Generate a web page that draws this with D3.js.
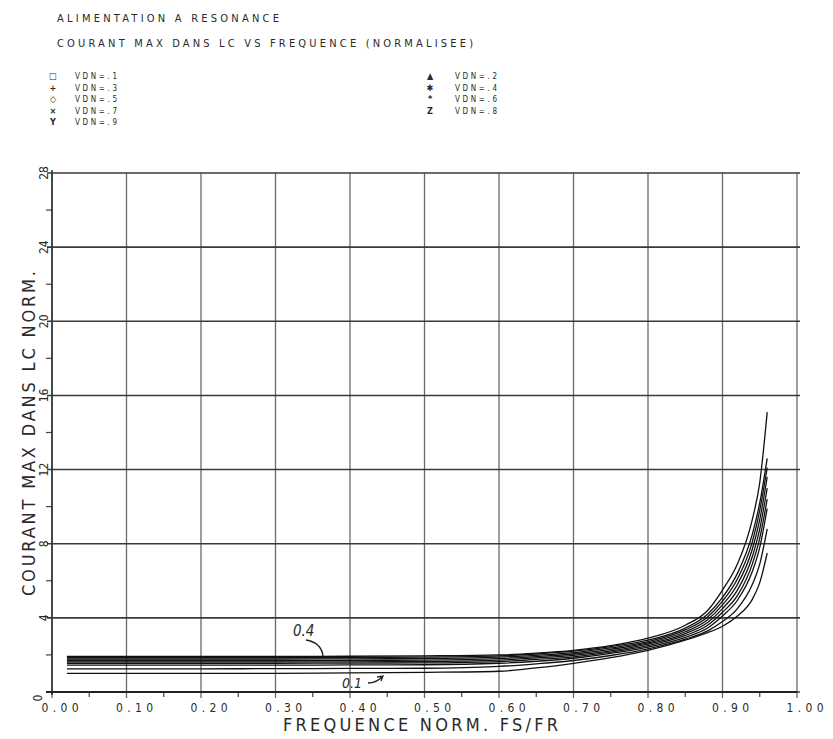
<!DOCTYPE html>
<meta charset="utf-8">
<style>
body { margin: 0; background: #fff; }
text { font-family: "DejaVu Sans", sans-serif; font-stretch: condensed; fill: #2a2a2a; }
</style>
<svg width="833" height="739"></svg>
<script src="https://d3js.org/d3.v7.min.js"></script>
<script>

// normalised frequency FS/FR where the curves were read
var freq = [0.02, 0.10, 0.20, 0.30, 0.40, 0.50, 0.60, 0.65, 0.70, 0.75, 0.80, 0.85, 0.88, 0.90, 0.92, 0.94, 0.95, 0.96];

// max current in LC (normalised), one list per VDN value
var vdn1 = [1.00, 1.00, 1.00, 1.01, 1.03, 1.06, 1.12, 1.30, 1.55, 1.85, 2.25, 2.80, 3.20, 3.55, 4.10, 5.00, 5.90, 7.5];
var vdn2 = [1.25, 1.25, 1.25, 1.26, 1.27, 1.28, 1.38, 1.52, 1.70, 1.97, 2.33, 2.85, 3.30, 3.80, 4.50, 5.80, 6.90, 8.8];
var vdn3 = [1.45, 1.45, 1.45, 1.45, 1.46, 1.47, 1.55, 1.66, 1.82, 2.08, 2.42, 2.95, 3.45, 4.10, 4.95, 6.50, 7.80, 9.9];
var vdn4 = [1.92, 1.92, 1.92, 1.92, 1.93, 1.95, 2.00, 2.10, 2.25, 2.50, 2.90, 3.60, 4.40, 5.50, 6.90, 9.30, 11.3, 15.1];
var vdn5 = [1.85, 1.85, 1.85, 1.85, 1.86, 1.88, 1.95, 2.05, 2.20, 2.45, 2.80, 3.45, 4.20, 5.10, 6.40, 8.50, 10.2, 12.6];
var vdn6 = [1.78, 1.78, 1.78, 1.78, 1.79, 1.80, 1.88, 1.98, 2.12, 2.38, 2.72, 3.35, 4.05, 4.90, 6.10, 8.10, 9.80, 12.1];
var vdn7 = [1.70, 1.70, 1.70, 1.70, 1.71, 1.72, 1.80, 1.91, 2.05, 2.30, 2.65, 3.25, 3.90, 4.70, 5.80, 7.70, 9.30, 11.6];
var vdn8 = [1.62, 1.62, 1.62, 1.62, 1.63, 1.64, 1.72, 1.84, 1.98, 2.22, 2.58, 3.15, 3.75, 4.50, 5.50, 7.30, 8.80, 11.0];
var vdn9 = [1.55, 1.55, 1.55, 1.55, 1.56, 1.57, 1.64, 1.76, 1.90, 2.15, 2.50, 3.05, 3.60, 4.30, 5.20, 6.90, 8.30, 10.4];
var series = [vdn1, vdn2, vdn3, vdn4, vdn5, vdn6, vdn7, vdn8, vdn9];

var legendSymbols = ["\u25A1", "+", "\u25C7", "\u2A2F", "Y", "\u25B2", "\u2731", "*", "Z"];
var legendLabels = ["VDN=.1", "VDN=.3", "VDN=.5", "VDN=.7", "VDN=.9", "VDN=.2", "VDN=.4", "VDN=.6", "VDN=.8"];

var xTicks = [0, 0.1, 0.2, 0.3, 0.4, 0.5, 0.6, 0.7, 0.8, 0.9, 1.0];
var yTicks = [0, 4, 8, 12, 16, 20, 24, 28];

var svg = d3.select("svg");

var x = d3.scaleLinear().domain([0, 1]).range([52, 797]);
var y = d3.scaleLinear().domain([0, 28]).range([692, 173]);

// ---- titles ----
svg.append("text").attr("x", 57).attr("y", 22)
   .attr("font-size", 11).attr("textLength", 222).attr("lengthAdjust", "spacing")
   .text("ALIMENTATION A RESONANCE");
svg.append("text").attr("x", 57).attr("y", 47)
   .attr("font-size", 11).attr("textLength", 416).attr("lengthAdjust", "spacing")
   .text("COURANT MAX DANS LC VS FREQUENCE (NORMALISEE)");

// ---- legend, two columns ----
legendLabels.forEach(function(lab, i) {
  var col = i < 5 ? 0 : 1;
  var row = col == 0 ? i : i - 5;
  var ly = 79 + row * 11.5;
  svg.append("text").attr("x", col ? 430 : 53).attr("y", ly)
     .attr("font-size", 9).attr("font-weight", "bold").attr("text-anchor", "middle").text(legendSymbols[i]);
  svg.append("text").attr("x", col ? 455 : 75).attr("y", ly)
     .attr("font-size", 8).attr("textLength", 42).attr("lengthAdjust", "spacing")
     .text(lab);
});

// ---- grid ----
var grid = svg.append("g");
grid.selectAll("line.v").data(xTicks).enter().append("line")
    .attr("x1", d => x(d)).attr("x2", d => x(d))
    .attr("y1", y(28)).attr("y2", y(0) + 6)
    .attr("stroke", "#6a6a6a").attr("stroke-width", 1.3);
grid.selectAll("line.h").data(yTicks).enter().append("line")
    .attr("x1", x(0) - 5).attr("x2", x(1) + 3)
    .attr("y1", d => y(d)).attr("y2", d => y(d))
    .attr("stroke", "#3a3a3a").attr("stroke-width", 1.6);

// minor ticks
var xMinor = d3.range(0.05, 1, 0.1);
grid.selectAll("line.xm").data(xMinor).enter().append("line")
    .attr("x1", d => x(d)).attr("x2", d => x(d))
    .attr("y1", y(0)).attr("y2", y(0) + 5)
    .attr("stroke", "#444").attr("stroke-width", 1.2);
var yMinor = d3.range(2, 28, 4);
grid.selectAll("line.ym").data(yMinor).enter().append("line")
    .attr("x1", x(0) - 6).attr("x2", x(0))
    .attr("y1", d => y(d)).attr("y2", d => y(d))
    .attr("stroke", "#444").attr("stroke-width", 1.2);

// axis lines
svg.append("line").attr("x1", x(0)).attr("x2", x(0)).attr("y1", y(28) - 3).attr("y2", y(0) + 3)
   .attr("stroke", "#333").attr("stroke-width", 1.6);
svg.append("line").attr("x1", x(0) - 6).attr("x2", x(1)).attr("y1", y(0)).attr("y2", y(0))
   .attr("stroke", "#222").attr("stroke-width", 2);

// tick labels
svg.selectAll("text.xt").data(xTicks).enter().append("text")
   .attr("x", d => x(d) + 8).attr("y", 712)
   .attr("font-size", 12).attr("text-anchor", "middle")
   .attr("textLength", 37).attr("lengthAdjust", "spacing")
   .attr("fill", "#444")
   .text(d => d3.format(".2f")(d));
svg.selectAll("text.yt").data(yTicks).enter().append("text")
   .attr("transform", d => "translate(" + (d == 0 ? 42 : 48) + "," + (y(d) + (d == 0 ? 6 : 0)) + ") rotate(-90)")
   .attr("font-size", 12).attr("text-anchor", "middle")
   .attr("fill", "#444")
   .text(d => d);

// axis titles
svg.append("text").attr("x", 283).attr("y", 731)
   .attr("font-size", 18)
   .attr("textLength", 275).attr("lengthAdjust", "spacing")
   .attr("fill", "#444")
   .text("FREQUENCE NORM. FS/FR");
svg.append("text").attr("transform", "translate(35,596) rotate(-90)")
   .attr("font-size", 18)
   .attr("textLength", 325).attr("lengthAdjust", "spacing")
   .attr("fill", "#444")
   .text("COURANT MAX DANS LC NORM.");

// ---- curves ----
var line = d3.line()
    .x(function(d, i) { return x(freq[i]); })
    .y(function(d) { return y(d); })
    .curve(d3.curveMonotoneX);

svg.append("g").selectAll("path").data(series).enter().append("path")
   .attr("d", line)
   .attr("fill", "none")
   .attr("stroke", "#111")
   .attr("stroke-width", 1.3);

// handwritten annotations
var hand = svg.append("g").attr("font-family", "DejaVu Sans").attr("font-style", "italic");
hand.append("text").attr("x", 293).attr("y", 636).attr("font-size", 15).text("0.4");
hand.append("path").attr("d", "M306,640 C318,642 322,648 323,656")
    .attr("fill", "none").attr("stroke", "#222").attr("stroke-width", 1.3);
hand.append("text").attr("x", 342).attr("y", 688).attr("font-size", 14).text("0.1");
hand.append("path").attr("d", "M368,683 C374,683 378,681 382,677 M377,677 L383,676 L381,681")
    .attr("fill", "none").attr("stroke", "#222").attr("stroke-width", 1.3);

</script>
